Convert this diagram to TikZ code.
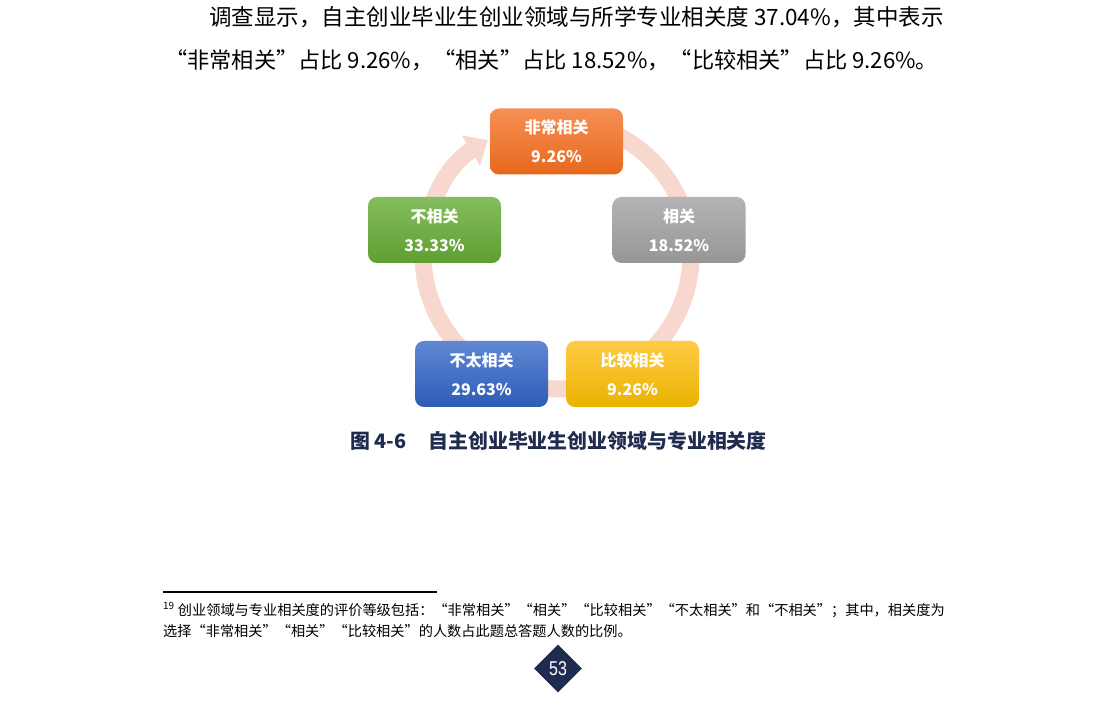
\documentclass[tikz,border=0pt]{standalone}
\usepackage{fontspec}
\setmainfont{Noto Sans CJK SC}
\newfontfamily\fwq[RawFeature=+fwid]{Noto Sans CJK SC}
\newfontfamily\pgnum[FakeStretch=0.8]{Liberation Sans}
\usetikzlibrary{arrows.meta,shapes.geometric}
\definecolor{navy}{HTML}{1F2C4F}
\definecolor{ringpink}{HTML}{F8D8CE}
\definecolor{orangeT}{HTML}{F58F55}
\definecolor{orangeB}{HTML}{E8681C}
\definecolor{grayT}{HTML}{B4B4B4}
\definecolor{grayB}{HTML}{969696}
\definecolor{yellowT}{HTML}{FFCB45}
\definecolor{yellowB}{HTML}{E9B300}
\definecolor{blueT}{HTML}{6088D2}
\definecolor{blueB}{HTML}{2D5CB7}
\definecolor{greenT}{HTML}{84BD5E}
\definecolor{greenB}{HTML}{5F9F30}
\newcommand{\qt}[1]{{\fwq “}#1{\fwq ”}}

\begin{document}
\begin{tikzpicture}[x=1pt,y=1pt]
   \useasboundingbox (0,0) rectangle (1116,707);
   \tikzstyle{para}=[anchor=west, inner sep=0pt, font=\fontsize{22.5}{22.5}\selectfont]
   \tikzstyle{note}=[anchor=west, inner sep=0pt, font=\fontsize{14.2}{14.2}\selectfont]
   \tikzstyle{level}=[rounded corners=9pt, minimum width=133pt, minimum height=66pt, inner sep=0pt,
      text=white, align=center, font=\bfseries\fontsize{16}{29}\selectfont]
   \tikzstyle{ring}=[line width=17pt, color=ringpink, -{Triangle[width=34pt,length=20pt]}]
   \node[para] (line1) at (209,690) {调查显示，自主创业毕业生创业领域与所学专业相关度 37.04\%，其中表示};
   \node[para, font=\fontsize{22.2}{22.2}\selectfont] (line2) at (165,647) {\qt{非常相关}占比 9.26\%，\qt{相关}占比 18.52\%，\qt{比较相关}占比 9.26\%。};
   \coordinate (hub) at (557,452);
   \draw[ring] ([shift={(90:134)}]hub) arc[start angle=90, end angle=-239, radius=134];
   \foreach \name/\x/\y/\col/\lbl/\val in {vhigh/556.5/565.5/orange/非常相关/9.26,
         high/679/477/gray/相关/18.52, fair/632.5/333/yellow/比较相关/9.26,
         weak/481.5/333/blue/不太相关/29.63, none/434.5/477/green/不相关/33.33} {
       \node[level, top color=\col T, bottom color=\col B] (\name) at (\x,\y) {\lbl\\\val\%};
   }
   \node[anchor=west, inner sep=0pt, text=navy, font=\bfseries\fontsize{19.9}{19.9}\selectfont] (caption) at (350,266)
      {图 4-6\hspace{1.1em}自主创业毕业生创业领域与专业相关度};
   \coordinate (rulestart) at (163,115);
   \coordinate (ruleend) at (437,115);
   \draw[line width=2pt] (rulestart) -- (ruleend);
   \node[note] (note1) at (163,97) {\textsuperscript{19} 创业领域与专业相关度的评价等级包括：\qt{非常相关}\qt{相关}\qt{比较相关}\qt{不太相关}和\qt{不相关}；其中，相关度为};
   \node[note] (note2) at (163,76) {选择\qt{非常相关}\qt{相关}\qt{比较相关}的人数占此题总答题人数的比例。};
   \node[diamond, fill=navy, minimum size=48pt, inner sep=0pt, text=white, font=\pgnum\fontsize{20}{20}\selectfont] (pagenum) at (558,38.5) {53};
\end{tikzpicture}
\end{document}
